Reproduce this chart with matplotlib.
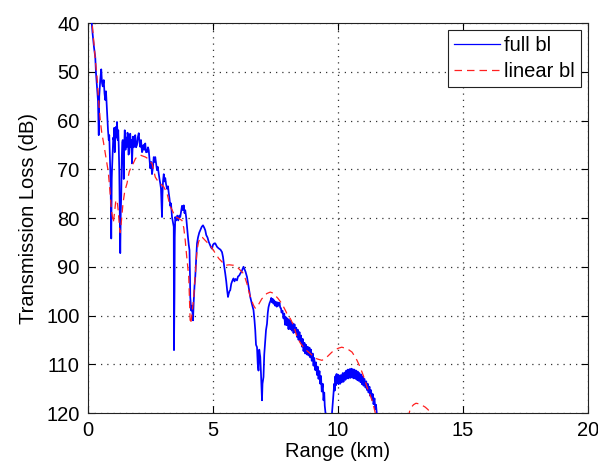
import matplotlib
matplotlib.use("Agg")
import matplotlib.pyplot as plt

# ---- data: full bl (blue, solid) ----
full_range = [
    0.12, 0.18, 0.24, 0.29, 0.32, 0.36, 0.40, 0.43, 0.45, 0.49, 0.53, 0.56, 0.59, 0.63, 0.66, 0.69,
    0.72, 0.75, 0.77, 0.80, 0.83, 0.85, 0.87, 0.89, 0.91, 0.93, 0.95, 0.96, 0.99, 1.01, 1.03, 1.05,
    1.07, 1.10, 1.12, 1.14, 1.16, 1.19, 1.21, 1.23, 1.25, 1.27, 1.29, 1.31, 1.33, 1.35, 1.37, 1.39,
    1.41, 1.43, 1.45, 1.47, 1.50, 1.53, 1.56, 1.58, 1.60, 1.62, 1.65, 1.67, 1.69, 1.72, 1.74, 1.76,
    1.78, 1.80, 1.83, 1.86, 1.89, 1.92, 1.96, 1.99, 2.03, 2.06, 2.09, 2.12, 2.16, 2.19, 2.22, 2.26,
    2.29, 2.32, 2.36, 2.40, 2.43, 2.46, 2.49, 2.53, 2.56, 2.60, 2.63, 2.66, 2.69, 2.73, 2.76, 2.79,
    2.83, 2.86, 2.89, 2.92, 2.94, 2.96, 2.98, 3.00, 3.03, 3.06, 3.09, 3.12, 3.16, 3.20, 3.23, 3.26,
    3.29, 3.32, 3.36, 3.40, 3.43, 3.44, 3.46, 3.47, 3.49, 3.53, 3.57, 3.61, 3.65, 3.69, 3.73, 3.76,
    3.80, 3.83, 3.86, 3.89, 3.93, 3.96, 4.00, 4.03, 4.06, 4.08, 4.09, 4.13, 4.16, 4.20, 4.23, 4.26,
    4.29, 4.33, 4.36, 4.40, 4.45, 4.49, 4.55, 4.60, 4.65, 4.69, 4.73, 4.78, 4.83, 4.88, 4.92, 4.96,
    5.00, 5.05, 5.09, 5.16, 5.22, 5.30, 5.36, 5.40, 5.45, 5.49, 5.53, 5.57, 5.60, 5.63, 5.66, 5.69,
    5.73, 5.78, 5.82, 5.86, 5.90, 5.96, 6.00, 6.05, 6.09, 6.14, 6.18, 6.22, 6.26, 6.30, 6.36, 6.42,
    6.49, 6.55, 6.62, 6.66, 6.69, 6.72, 6.76, 6.79, 6.82, 6.85, 6.89, 6.92, 6.94, 6.96, 6.98, 7.02,
    7.05, 7.09, 7.12, 7.16, 7.19, 7.22, 7.26, 7.30, 7.33, 7.36, 7.39, 7.42, 7.45, 7.49, 7.52, 7.55,
    7.59, 7.62, 7.66, 7.69, 7.72, 7.74, 7.78, 7.82, 7.85, 7.88, 7.91, 7.94, 7.98, 8.02, 8.05, 8.09,
    8.12, 8.15, 8.19, 8.22, 8.26, 8.29, 8.33, 8.36, 8.39, 8.42, 8.46, 8.49, 8.52, 8.56, 8.59, 8.62,
    8.66, 8.69, 8.72, 8.76, 8.79, 8.82, 8.86, 8.89, 8.92, 8.95, 8.99, 9.02, 9.05, 9.09, 9.12, 9.16,
    9.19, 9.22, 9.26, 9.29, 9.32, 9.35, 9.39, 9.42, 9.45, 9.47, 9.52, 9.60, 9.70, 9.76, 9.79, 9.82,
    9.85, 9.87, 9.89, 9.92, 9.94, 9.96, 9.99, 10.02, 10.05, 10.09, 10.12, 10.15, 10.19, 10.22, 10.26,
    10.30, 10.33, 10.36, 10.39, 10.42, 10.46, 10.50, 10.53, 10.56, 10.59, 10.62, 10.66, 10.70, 10.73,
    10.76, 10.79, 10.82, 10.86, 10.90, 10.93, 10.96, 10.99, 11.02, 11.06, 11.10, 11.13, 11.16, 11.19,
    11.22, 11.26, 11.29, 11.32, 11.36, 11.39, 11.42, 11.46, 11.49, 11.52, 11.55, 11.60,
]
full_tl = [
    38.0, 42.0, 45.0, 47.0, 50.3, 53.0, 56.0, 63.0, 55.0, 51.7, 49.5, 52.3, 53.0, 51.7, 54.4, 55.8,
    54.0, 57.0, 59.2, 62.0, 64.0, 63.0, 66.5, 70.0, 75.0, 84.2, 72.0, 70.2, 66.0, 63.5, 64.0, 61.5,
    66.5, 62.0, 61.3, 63.5, 60.3, 64.0, 62.0, 65.4, 70.0, 78.0, 87.2, 79.0, 75.3, 68.0, 64.5, 64.0,
    67.0, 72.0, 65.0, 62.0, 66.0, 63.5, 65.4, 62.5, 63.0, 67.0, 66.7, 63.5, 62.7, 65.5, 64.0, 68.8,
    66.0, 63.3, 65.5, 64.0, 63.0, 65.5, 65.0, 63.5, 62.6, 64.5, 65.4, 64.0, 66.5, 66.1, 65.0, 66.0,
    64.7, 66.5, 66.5, 65.5, 66.1, 68.0, 69.8, 68.5, 71.0, 69.5, 67.5, 68.5, 67.5, 69.0, 70.2, 69.5,
    71.0, 72.0, 72.9, 74.0, 77.0, 79.8, 75.0, 72.5, 71.0, 72.5, 71.8, 73.0, 74.0, 73.5, 74.9, 76.0,
    77.5, 77.0, 79.8, 81.0, 81.8, 107.1, 95.0, 84.0, 79.8, 80.5, 79.5, 80.5, 79.5, 79.8, 78.5, 77.5,
    78.4, 77.4, 79.0, 78.4, 80.0, 81.8, 84.0, 85.5, 86.6, 92.0, 96.2, 99.0, 98.0, 101.0, 97.0, 94.0,
    92.1, 88.0, 85.2, 84.0, 83.0, 82.5, 81.8, 81.5, 82.0, 82.5, 83.5, 84.0, 84.9, 85.5, 86.0, 86.3,
    85.5, 85.2, 85.2, 85.9, 86.2, 86.5, 87.0, 88.0, 90.0, 91.4, 93.0, 95.0, 96.2, 95.5, 95.0, 94.8,
    93.5, 92.8, 92.4, 93.0, 92.5, 92.8, 92.0, 91.8, 91.4, 91.0, 90.5, 90.0, 90.5, 91.0, 92.1, 94.0,
    96.2, 97.5, 98.9, 101.0, 103.0, 106.0, 106.5, 110.0, 111.3, 107.0, 108.5, 112.0, 115.0, 117.4, 114.0, 112.6,
    108.0, 105.1, 103.0, 101.7, 99.5, 98.3, 97.5, 97.0, 96.4, 97.3, 96.6, 97.6, 96.9, 98.0, 97.2, 98.2,
    97.3, 98.0, 97.4, 98.4, 98.5, 99.4, 99.0, 100.6, 99.6, 101.9, 100.3, 102.0, 100.6, 102.8, 100.9, 102.8,
    101.1, 103.1, 101.6, 103.6, 101.8, 103.4, 102.5, 104.4, 102.9, 105.0, 103.4, 105.4, 104.1, 106.4, 104.8, 107.3,
    105.6, 107.8, 106.0, 108.0, 106.4, 108.2, 106.6, 108.6, 107.0, 109.3, 107.8, 110.3, 108.7, 111.2, 109.6, 112.2,
    110.5, 113.0, 111.4, 114.0, 112.4, 115.6, 114.0, 117.4, 115.8, 118.5, 121.0, 125.0, 124.0, 120.0, 117.8, 116.2,
    114.0, 115.4, 112.5, 114.3, 112.0, 113.9, 112.1, 114.1, 112.3, 114.0, 112.2, 113.7, 111.8, 113.6, 111.7,
    113.2, 111.3, 112.9, 111.1, 112.9, 111.0, 112.8, 110.9, 112.7, 111.0, 112.9, 111.1, 113.0, 111.3,
    113.2, 111.5, 113.4, 111.8, 113.7, 112.1, 114.1, 112.5, 114.4, 113.0, 114.8, 113.5, 115.3, 114.0,
    115.8, 114.6, 116.5, 115.3, 117.3, 116.1, 118.2, 117.0, 119.2, 118.3, 120.0, 121.5,
]

# ---- data: linear bl (red, dashed) ----
linear_range = [
    0.12, 0.18, 0.25, 0.30, 0.36, 0.42, 0.49, 0.55, 0.62, 0.69, 0.75, 0.81, 0.87, 0.93, 1.01, 1.06,
    1.11, 1.16, 1.21, 1.26, 1.29, 1.33, 1.40, 1.47, 1.56, 1.65, 1.73, 1.81, 1.90, 2.00, 2.09, 2.20,
    2.30, 2.36, 2.45, 2.56, 2.62, 2.69, 2.80, 2.90, 3.03, 3.16, 3.29, 3.36, 3.49, 3.60, 3.76, 3.83,
    3.89, 3.95, 4.03, 4.09, 4.13, 4.17, 4.23, 4.30, 4.36, 4.42, 4.49, 4.58, 4.69, 4.80, 4.89, 5.00,
    5.10, 5.23, 5.36, 5.49, 5.65, 5.82, 5.95, 6.09, 6.20, 6.29, 6.36, 6.42, 6.50, 6.62, 6.69, 6.76,
    6.85, 6.95, 7.02, 7.15, 7.29, 7.40, 7.49, 7.60, 7.76, 7.90, 8.02, 8.09, 8.22, 8.36, 8.50, 8.62,
    8.75, 8.89, 9.02, 9.16, 9.36, 9.56, 9.76, 9.90, 10.02, 10.15, 10.29, 10.42, 10.56, 10.66, 10.76, 10.86,
    10.96, 11.06, 11.16, 11.26, 11.36, 11.42, 11.49, 11.60, 12.00, 12.60, 12.85, 12.89, 13.02, 13.12, 13.22, 13.36,
    13.49, 13.60, 13.69, 13.80, 14.20,
]
linear_tl = [
    38.0, 40.8, 45.0, 48.0, 51.0, 55.5, 59.9, 62.5, 64.5, 66.7, 68.5, 70.5, 74.0, 78.0, 81.0, 79.0,
    76.5, 76.3, 78.5, 82.0, 83.0, 81.0, 77.0, 74.5, 72.9, 70.5, 69.5, 68.8, 67.8, 67.3, 67.1, 67.3,
    67.5, 67.7, 68.3, 68.8, 70.0, 71.6, 72.5, 73.0, 73.6, 74.9, 77.7, 78.3, 79.8, 80.0, 80.5, 82.0,
    84.6, 88.0, 92.1, 101.7, 101.0, 99.0, 96.2, 91.0, 86.6, 85.0, 83.9, 84.0, 84.6, 85.2, 85.6, 86.5,
    87.3, 88.3, 89.0, 89.7, 89.6, 89.7, 90.0, 90.7, 91.3, 92.4, 93.5, 94.8, 96.3, 97.9, 98.5, 98.3,
    97.5, 96.6, 96.2, 95.5, 95.2, 95.4, 95.9, 96.5, 97.6, 99.0, 100.3, 100.6, 102.0, 104.4, 105.7, 106.5,
    107.2, 107.8, 108.4, 108.9, 109.2, 108.5, 107.5, 107.0, 106.7, 106.5, 106.7, 107.0, 107.5, 108.3, 109.2, 110.3,
    111.6, 113.0, 114.7, 116.0, 117.4, 118.5, 120.0, 122.0, 125.0, 122.0, 120.0, 119.1, 118.3, 118.0, 118.1, 118.4,
    118.8, 119.3, 119.9, 121.0, 124.0,
]

x_ticks = [0, 5, 10, 15, 20]
y_ticks = [40, 50, 60, 70, 80, 90, 100, 110, 120]

plt.rcParams['font.family'] = ['Liberation Sans', 'DejaVu Sans']

fig = plt.figure(figsize=(5.98, 4.63), dpi=100)
ax = fig.add_axes([88 / 598, 1 - 413 / 463, 500 / 598, 390 / 463])

ax.plot(full_range, full_tl, color='#0000ff', lw=1.25, label='full bl', zorder=3)
ax.plot(linear_range, linear_tl, color='#ff2020', lw=0.9, ls=(0, (6, 4)), label='linear bl', zorder=4)

ax.set_xlim(0, 20)
ax.set_ylim(120, 40)
ax.set_xticks(x_ticks)
ax.set_yticks(y_ticks)
ax.tick_params(direction='in', top=True, right=True, labelsize=14.5, length=5, width=0.8, pad=6, colors='black')
ax.grid(True, color='#333333', linestyle=(0, (1, 4)), linewidth=0.9)
for s in ax.spines.values():
    s.set_linewidth(0.8)
    s.set_color('#222222')

ax.set_xlabel('Range (km)', fontsize=14.5, labelpad=1)
ax.set_ylabel('Transmission Loss (dB)', fontsize=14.5, labelpad=6)

leg = ax.legend(loc='upper right', fontsize=14.5, frameon=True, fancybox=False,
                edgecolor='#222222', framealpha=1, borderaxespad=0.35,
                handlelength=2.3, handletextpad=0.2, labelspacing=0.35, borderpad=0.3)
leg.get_frame().set_linewidth(0.8)
leg.get_lines()[0].set_linewidth(0.9)

fig.savefig('out.png', dpi=100)
